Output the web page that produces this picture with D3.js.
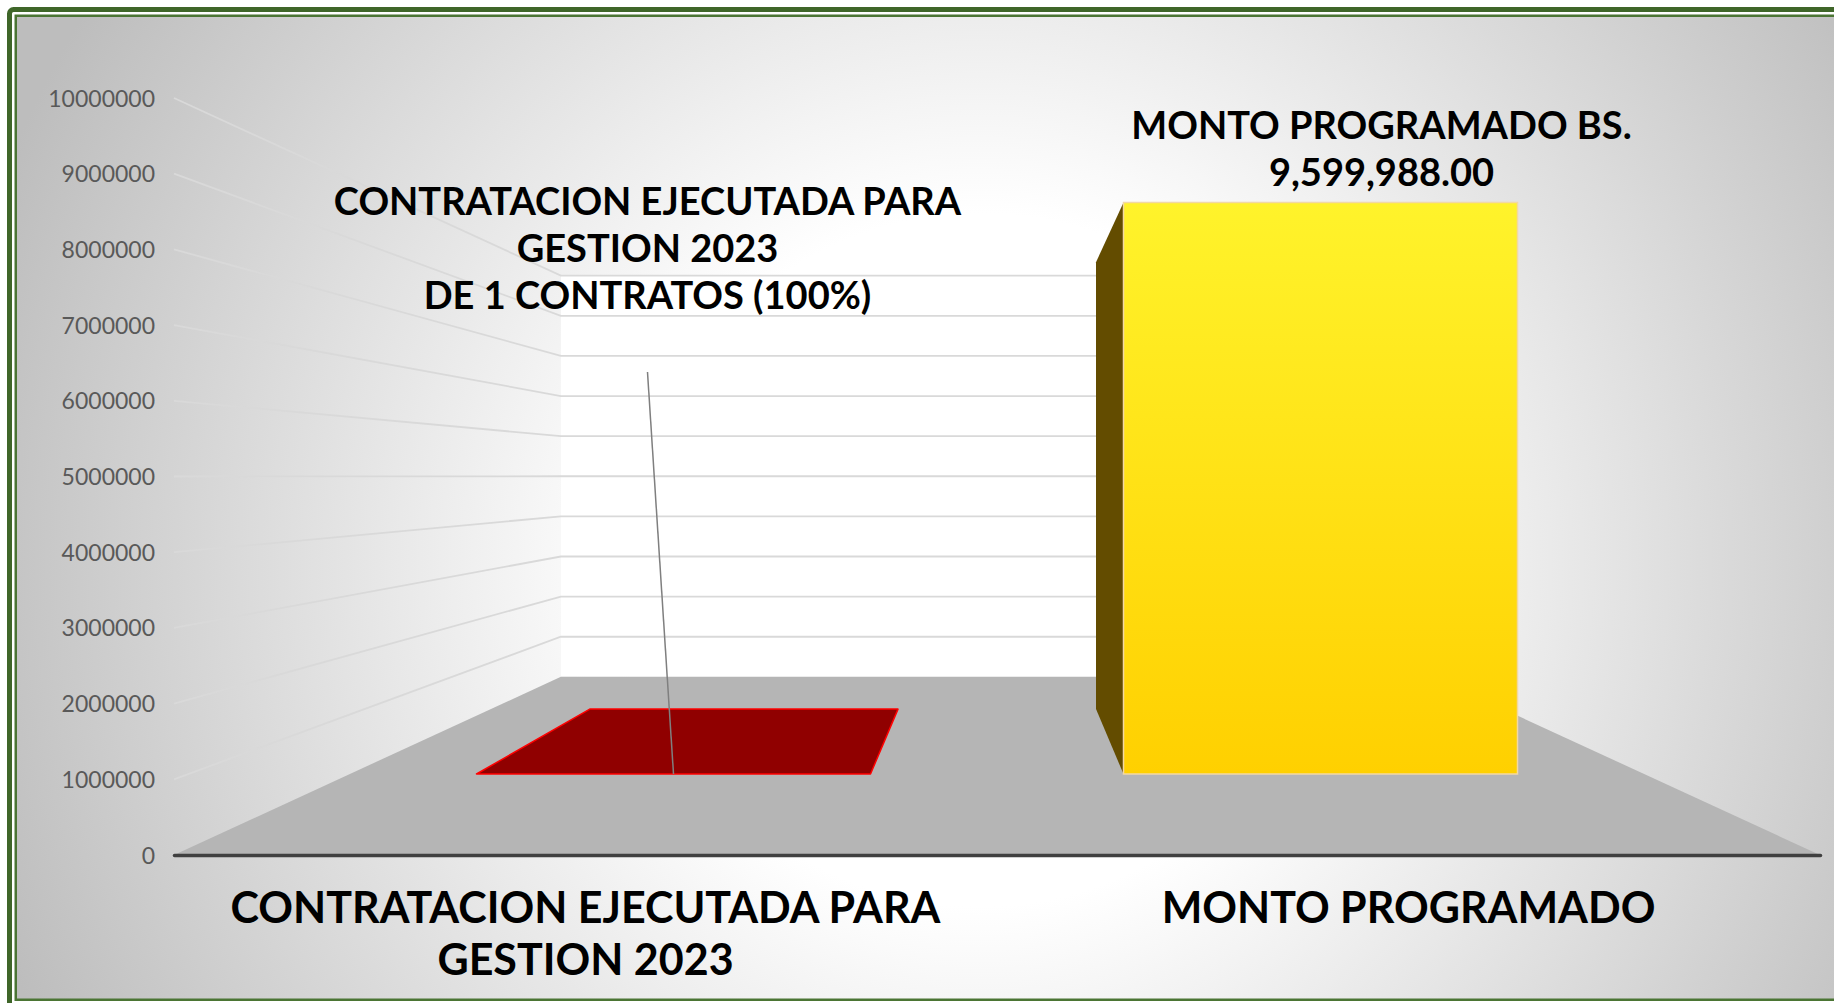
<!DOCTYPE html>
<html>
<head>
<meta charset="utf-8">
<script src="https://cdn.jsdelivr.net/npm/d3@7"></script>
<style>
  body { margin: 0; background: #fff; }
  svg { display: block; }
  .ytick text { font-family: Lato, "Liberation Sans", sans-serif; font-size: 23px; fill: #595959; }
  .big { font-family: Lato, "Liberation Sans", sans-serif; font-weight: 700; fill: #000; }
</style>
</head>
<body>
<svg id="chart" width="1834" height="1003"></svg>
<script>
// chart data
const categories = ["CONTRATACION EJECUTADA PARA GESTION 2023", "MONTO PROGRAMADO"];
const values = [0, 9599988];
const yTicks = [0, 1000000, 2000000, 3000000, 4000000, 5000000, 6000000, 7000000, 8000000, 9000000, 10000000];
const categoryLines = [["CONTRATACION EJECUTADA PARA", "GESTION 2023"], ["MONTO PROGRAMADO"]];
const dataLabelLines = [
    ["CONTRATACION EJECUTADA PARA", "GESTION 2023", "DE 1 CONTRATOS (100%)"],
    ["MONTO PROGRAMADO BS.", d3.format(",.2f")(values[1])]
];

// layout
const W = 1834, H = 1003;
const VP = {x: 997, y: 476};             // vanishing point of the 3d view
const DEPTH = {barFront: 0.272, barBack: 0.626, wall: 0.887};
const PLOT = {left: 174, right: 1820, bottom: 855, top: 98};
const LABEL_OFFSET = [{dx: -26, dy: -465}, {dx: 61, dy: -17}];
const LABEL_LINE_H = 47;

const svg = d3.select("#chart");
const defs = svg.append("defs");

let bg = defs.append("radialGradient").attr("id", "bgGrad")
    .attr("gradientUnits", "userSpaceOnUse")
    .attr("cx", 980).attr("cy", 560).attr("r", 1050);
bg.append("stop").attr("offset", 0).attr("stop-color", "#ffffff");
bg.append("stop").attr("offset", 0.33).attr("stop-color", "#ffffff");
bg.append("stop").attr("offset", 1).attr("stop-color", "#bdbdbd");

let yel = defs.append("linearGradient").attr("id", "yelGrad")
    .attr("x1", 0).attr("y1", 0).attr("x2", 0).attr("y2", 1);
yel.append("stop").attr("offset", 0).attr("stop-color", "#fff32b");
yel.append("stop").attr("offset", 1).attr("stop-color", "#ffd000");

// frame
svg.append("rect").attr("x", 17).attr("y", 17).attr("width", W).attr("height", 982)
    .attr("fill", "url(#bgGrad)");
svg.append("rect").attr("x", 9.5).attr("y", 9.5).attr("width", W + 20).attr("height", H + 20)
    .attr("rx", 4).attr("fill", "none").attr("stroke", "#3f6629").attr("stroke-width", 5);
svg.append("rect").attr("x", 15.75).attr("y", 15.75).attr("width", W + 20).attr("height", 984)
    .attr("fill", "none").attr("stroke", "#4b7534").attr("stroke-width", 2.5);

const y = d3.scaleLinear().domain([0, 10000000]).range([PLOT.bottom, PLOT.top]);
const x = d3.scaleBand().domain(categories).range([PLOT.left, PLOT.right])
    .paddingInner(0.391).paddingOuter(0.1955);

function proj(px, py, d) {
    const s = 1 / (1 + d);
    return [VP.x + (px - VP.x) * s, VP.y + (py - VP.y) * s];
}
function poly(pts) {
    return "M" + pts.map(p => p[0].toFixed(1) + "," + p[1].toFixed(1)).join("L") + "Z";
}

// back wall
const yMax = y.domain()[1];
svg.append("path")
    .attr("d", poly([
        proj(PLOT.left, y(yMax), DEPTH.wall), proj(PLOT.right, y(yMax), DEPTH.wall),
        proj(PLOT.right, y(0), DEPTH.wall), proj(PLOT.left, y(0), DEPTH.wall)
    ]))
    .attr("fill", "#ffffff");

// gridlines: side wall + back wall
let grid = svg.append("g").attr("fill", "none").attr("stroke", "#d9d9d9").attr("stroke-width", 1.8);
grid.selectAll("path")
    .data(yTicks.filter(v => v > 0))
    .enter()
    .append("path")
    .attr("d", function (v) {
        const a = [PLOT.left, y(v)];
        const b = proj(PLOT.left, y(v), DEPTH.wall);
        const c = proj(PLOT.right, y(v), DEPTH.wall);
        return "M" + a + "L" + b + "L" + c;
    });

// floor
svg.append("path")
    .attr("d", poly([
        [PLOT.left, y(0)], proj(PLOT.left, y(0), DEPTH.wall),
        proj(PLOT.right, y(0), DEPTH.wall), [PLOT.right, y(0)]
    ]))
    .attr("fill", "#b5b5b5");

// y axis
let yAxis = svg.append("g").attr("class", "ytick")
    .attr("transform", "translate(" + PLOT.left + ",0)")
    .call(d3.axisLeft(y).tickValues(yTicks).tickSize(0).tickPadding(19).tickFormat(d3.format("d")));
yAxis.select(".domain").remove();
yAxis.selectAll("text").attr("dy", "0.35em");

// x axis line + category labels
let xAxis = svg.append("g")
    .attr("transform", "translate(0," + PLOT.bottom + ")")
    .call(d3.axisBottom(x).tickSize(0).tickSizeOuter(0).tickFormat(""));
xAxis.select(".domain").attr("stroke", "#404040").attr("stroke-width", 3.5).attr("stroke-linecap", "round");
xAxis.selectAll(".tick text").remove();
xAxis.selectAll(".tick").each(function (d, i) {
    let t = d3.select(this).append("text").attr("class", "big")
        .attr("text-anchor", "middle").style("font-size", "43px");
    categoryLines[i].forEach(function (s, k) {
        t.append("tspan").attr("x", 0).attr("y", 68 + k * 52).text(s);
    });
});

// bars
const bars = categories.map(function (c, i) {
    return {cat: c, value: values[i], i: i};
});
const barStyle = [
    {front: "#900000", side: "#6a0000", top: "#900000", stroke: "#ff0000"},
    {front: "url(#yelGrad)", side: "#634c00", top: "#fff32b", stroke: "#f2d8a4"}
];
let barG = svg.append("g");
bars.forEach(function (d) {
    const x0 = x(d.cat), x1 = x0 + x.bandwidth();
    const yt = y(d.value), yb = y(0);
    const f = DEPTH.barFront, b = DEPTH.barBack;
    const st = barStyle[d.i];
    let g = barG.append("g");
    if (yt > VP.y) {
        g.append("path")
            .attr("d", poly([proj(x0, yt, f), proj(x1, yt, f), proj(x1, yt, b), proj(x0, yt, b)]))
            .attr("fill", st.top).attr("stroke", st.stroke).attr("stroke-width", 1.5)
            .attr("stroke-linejoin", "round");
    }
    if (d.value > 0) {
        const xs = x0 > VP.x ? x0 : x1;
        g.append("path")
            .attr("d", poly([proj(xs, yt, f), proj(xs, yt, b), proj(xs, yb, b), proj(xs, yb, f)]))
            .attr("fill", st.side);
        g.append("path")
            .attr("d", poly([proj(x0, yt, f), proj(x1, yt, f), proj(x1, yb, f), proj(x0, yb, f)]))
            .attr("fill", st.front).attr("stroke", st.stroke).attr("stroke-width", 1.5);
    }
});

// data labels
bars.forEach(function (d) {
    const anchor = proj(x(d.cat) + x.bandwidth() / 2, y(d.value), DEPTH.barFront);
    const off = LABEL_OFFSET[d.i];
    const lines = dataLabelLines[d.i];
    const cx = anchor[0] + off.dx;
    const lastY = anchor[1] + off.dy;
    if (d.i === 0) {
        svg.append("line")
            .attr("x1", cx).attr("y1", lastY + 63)
            .attr("x2", anchor[0]).attr("y2", anchor[1])
            .attr("stroke", "#7f7f7f").attr("stroke-width", 1.5);
    }
    let t = svg.append("text").attr("class", "big")
        .attr("text-anchor", "middle").style("font-size", "38px");
    lines.forEach(function (s, k) {
        t.append("tspan").attr("x", cx)
            .attr("y", lastY - (lines.length - 1 - k) * LABEL_LINE_H).text(s);
    });
});
</script>
</body>
</html>
